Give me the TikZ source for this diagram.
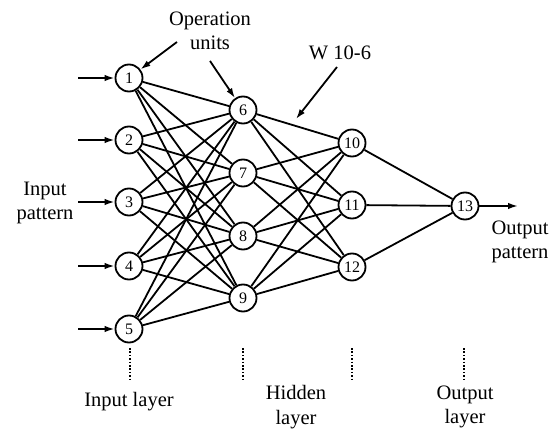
\documentclass[tikz,border=0pt]{standalone}
\usepackage{fontspec}
\setmainfont{Liberation Serif}
\usetikzlibrary{arrows.meta}

\begin{document}
\begin{tikzpicture}[x=1pt,y=-1pt,line width=1.8pt,>={Latex[length=10pt,width=6.5pt]},
	unit/.style={circle,draw,fill=white,minimum size=27pt,inner sep=0pt,font=\fontsize{16}{16}\selectfont},
	lbl/.style={align=center,font=\fontsize{20.5}{24.5}\selectfont},
	vdots/.style={line width=2.6pt,dash pattern=on 1.6pt off 1.8pt}]
\useasboundingbox (0,0) rectangle (554,430);
% input layer
\node[unit] (1) at (129,78) {1};
\node[unit] (2) at (129,140) {2};
\node[unit] (3) at (129,202) {3};
\node[unit] (4) at (129,266) {4};
\node[unit] (5) at (129,329) {5};
% hidden layer
\node[unit] (6) at (243,110) {6};
\node[unit] (7) at (243,173) {7};
\node[unit] (8) at (243,236) {8};
\node[unit] (9) at (243,298) {9};
\node[unit] (10) at (352,143) {10};
\node[unit] (11) at (352,205) {11};
\node[unit] (12) at (352,267) {12};
% output layer
\node[unit] (13) at (465,206) {13};

\foreach \i in {1,...,5}
	\foreach \h in {6,...,9}
		\draw (\i) -- (\h);
\foreach \h in {6,...,9}
	\foreach \k in {10,11,12}
		\draw (\h) -- (\k);
\foreach \k in {10,11,12}
	\draw (\k) -- (13);

% inputs and output
\foreach \i/\y in {1/78,2/140,3/202,4/266,5/329} {
	\coordinate (in\i) at (78,\y);
	\draw[->] (in\i) -- (\i);
}
\coordinate (out) at (518,206);
\draw[->] (13) -- (out);

% labels
\node[lbl] (oplbl) at (210,31) {Operation\\units};
\coordinate (opa) at (177,42);
\coordinate (opb) at (210,61);
\draw[->] (opa) -- (1);
\draw[->] (opb) -- (6);
\node[lbl] (wlbl) at (340,53) {W 10-6};
\coordinate (wa) at (337,67);
\coordinate (wtip) at (296,119);
\draw[->] (wa) -- (wtip);
\node[lbl] (inpat) at (45,203) {Input\\pattern};
\node[lbl,align=left] (outpat) at (520,242) {Output\\pattern};

\foreach \x in {130,243,352,464}
	\draw[vdots] (\x,348) -- (\x,380);
\node[lbl] (inlay) at (129,402) {Input layer};
\node[lbl] (hidlay) at (296,407) {Hidden\\layer};
\node[lbl] (outlay) at (465,407) {Output\\layer};
\end{tikzpicture}
\end{document}
